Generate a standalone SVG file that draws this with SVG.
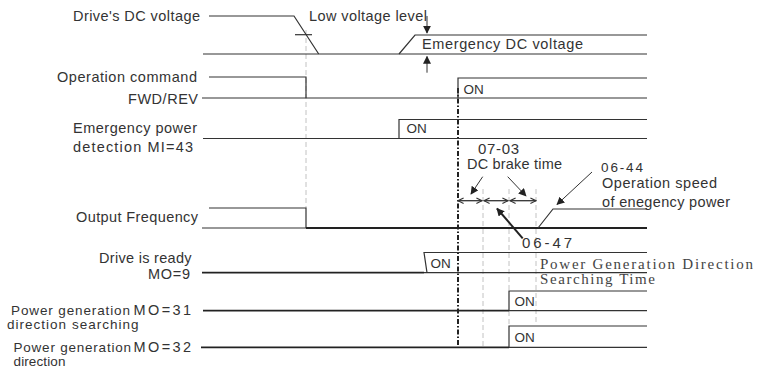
<svg xmlns="http://www.w3.org/2000/svg" width="758" height="370" viewBox="0 0 758 370">
<defs>
<style>
text{font-family:"Liberation Sans",Arial,sans-serif;font-size:14.5px;fill:#333}
.on{font-size:13.5px}
.sm{font-size:13.5px}
.num{font-size:15px}
.mono{font-family:"Liberation Serif","Times New Roman",serif;font-size:15px;fill:#444}
.w{fill:none;stroke:#333;stroke-width:1.2}
.t{fill:none;stroke:#222;stroke-width:1.8}
.g{fill:none;stroke:#bbb;stroke-width:0.9;stroke-dasharray:5,3}
.k{fill:none;stroke:#222;stroke-width:2;stroke-dasharray:5,2,1.5,2}
.a{fill:none;stroke:#333;stroke-width:1}
.d{fill:none;stroke:#333;stroke-width:1.3}
</style>
<marker id="fa" viewBox="0 0 10 10" refX="9" refY="5" markerWidth="8" markerHeight="8" markerUnits="userSpaceOnUse" orient="auto"><path d="M0,0 L10,5 L0,10 z" fill="#222"/></marker>
<marker id="oa" viewBox="0 0 10 10" refX="9" refY="5" markerWidth="7" markerHeight="7" markerUnits="userSpaceOnUse" orient="auto-start-reverse"><path d="M1,1 L9,5 L1,9" fill="none" stroke="#333" stroke-width="1.6"/></marker>
</defs>
<rect width="758" height="370" fill="#fff"/>

<g id="guides">
<path class="g" d="M306,30 V208"/>
<path class="g" d="M483,189 V346"/>
<path class="g" d="M509,189 V291"/>
<path class="g" d="M509,311 V326"/>
<path class="g" d="M536,189 V322"/>
<path class="k" d="M458,88 V346"/>
</g>

<g id="dc-voltage">
<text x="73" y="21" textLength="127" lengthAdjust="spacing">Drive's DC voltage</text>
<path class="w" d="M209,16 H294 L318.7,54"/>
<path class="w" d="M203,54 H647"/>
<path class="w" d="M399,54 L415,35 H647"/>
<path class="w" d="M295,34.7 H312"/>
<text x="309" y="21" textLength="118" lengthAdjust="spacing">Low voltage level</text>
<text x="422" y="48.5" textLength="161" lengthAdjust="spacing">Emergency  DC voltage</text>
</g>

<g id="operation-command">
<text x="57" y="81.5" textLength="140" lengthAdjust="spacing">Operation command</text>
<text x="128" y="104" textLength="70" lengthAdjust="spacing">FWD/REV</text>
<path class="w" d="M209,77 H306 V98"/>
<path class="w" d="M202,98 H647"/>
<path class="w" d="M458,98 V78 H647"/>
<text class="on" x="463.5" y="94.3">ON</text>
</g>

<g id="emergency-detection">
<text x="73" y="133.3" textLength="124" lengthAdjust="spacing">Emergency power</text>
<text x="73" y="152.3" textLength="120" lengthAdjust="spacing">detection   MI=43</text>
<path class="w" d="M203,138.5 H647"/>
<path class="w" d="M399,138.5 V119.5 H647"/>
<text class="on" x="406.5" y="133">ON</text>
</g>

<g id="output-frequency">
<text x="76" y="221.7" textLength="122" lengthAdjust="spacing">Output Frequency</text>
<path class="w" d="M209,208 H306 V228"/>
<path class="w" d="M202,228 H306"/>
<path class="t" d="M306,228 H647"/>
<path class="w" d="M538,228 L553,209 H647"/>
</g>

<g id="drive-ready">
<text x="99" y="263.3" textLength="92.5" lengthAdjust="spacing">Drive is ready</text>
<text x="148" y="279.3" textLength="42" lengthAdjust="spacing">MO=9</text>
<path class="t" d="M202,272.7 H424"/>
<path class="w" d="M424,272.7 H647"/>
<path class="w" d="M427,272.7 L424,252.5 H647"/>
<text class="on" x="430.5" y="267.7">ON</text>
<text class="mono" x="540" y="269" textLength="213" lengthAdjust="spacing">Power Generation Direction</text>
<text class="mono" x="540" y="284.3" textLength="115" lengthAdjust="spacing">Searching Time</text>
</g>

<g id="mo31">
<text class="sm" x="11" y="315" textLength="119" lengthAdjust="spacing">Power generation</text>
<text x="133.5" y="315" textLength="57.5" lengthAdjust="spacing">MO=31</text>
<text class="sm" x="7" y="329" textLength="131.5" lengthAdjust="spacing">direction searching</text>
<path class="t" d="M203,310.7 H509"/>
<path class="w" d="M509,310.7 V291 H647"/>
<path class="w" d="M509,310.7 H647"/>
<text class="on" x="514.5" y="305.7">ON</text>
</g>

<g id="mo32">
<text class="sm" x="13.5" y="351.5" textLength="117.5" lengthAdjust="spacing">Power generation</text>
<text x="133.5" y="351.7" textLength="57.5" lengthAdjust="spacing">MO=32</text>
<text class="sm" x="13.5" y="366" textLength="52" lengthAdjust="spacing">direction</text>
<path class="t" d="M201,347.3 H509"/>
<path class="w" d="M509,347.3 V326 H647"/>
<path class="w" d="M509,347.3 H647"/>
<text class="on" x="514.5" y="341.7">ON</text>
</g>

<g id="annotations">
<text class="num" x="478" y="154" textLength="41" lengthAdjust="spacing">07-03</text>
<text x="467" y="169" textLength="95" lengthAdjust="spacing">DC brake time</text>
<text class="sm" x="601" y="171.5" textLength="42" lengthAdjust="spacing">06-44</text>
<text x="602" y="188" textLength="115" lengthAdjust="spacing">Operation speed</text>
<text x="602" y="206.5" textLength="128" lengthAdjust="spacing">of enegency power</text>
<text class="num" x="522" y="247.7" textLength="50" lengthAdjust="spacing">06-47</text>
</g>

<g id="connectors">
<path class="a" d="M427,16 V33" marker-end="url(#fa)"/>
<path class="a" d="M427,72.7 V56.5" marker-end="url(#fa)"/>
<path class="d" d="M458,200.7 H482" marker-start="url(#oa)" marker-end="url(#oa)"/>
<path class="d" d="M484,200.7 H508" marker-start="url(#oa)" marker-end="url(#oa)"/>
<path class="d" d="M510,200.7 H536" marker-start="url(#oa)" marker-end="url(#oa)"/>
<path class="a" d="M482.7,176.7 L471,194" marker-end="url(#fa)"/>
<path class="a" d="M507.7,176.7 L526,196" marker-end="url(#fa)"/>
<path fill="none" stroke="#222" stroke-width="2" d="M522.7,238.3 L497,208.5" marker-end="url(#fa)"/>
<path class="a" d="M592,172 L557,204.5" marker-end="url(#fa)"/>
</g>
</svg>
